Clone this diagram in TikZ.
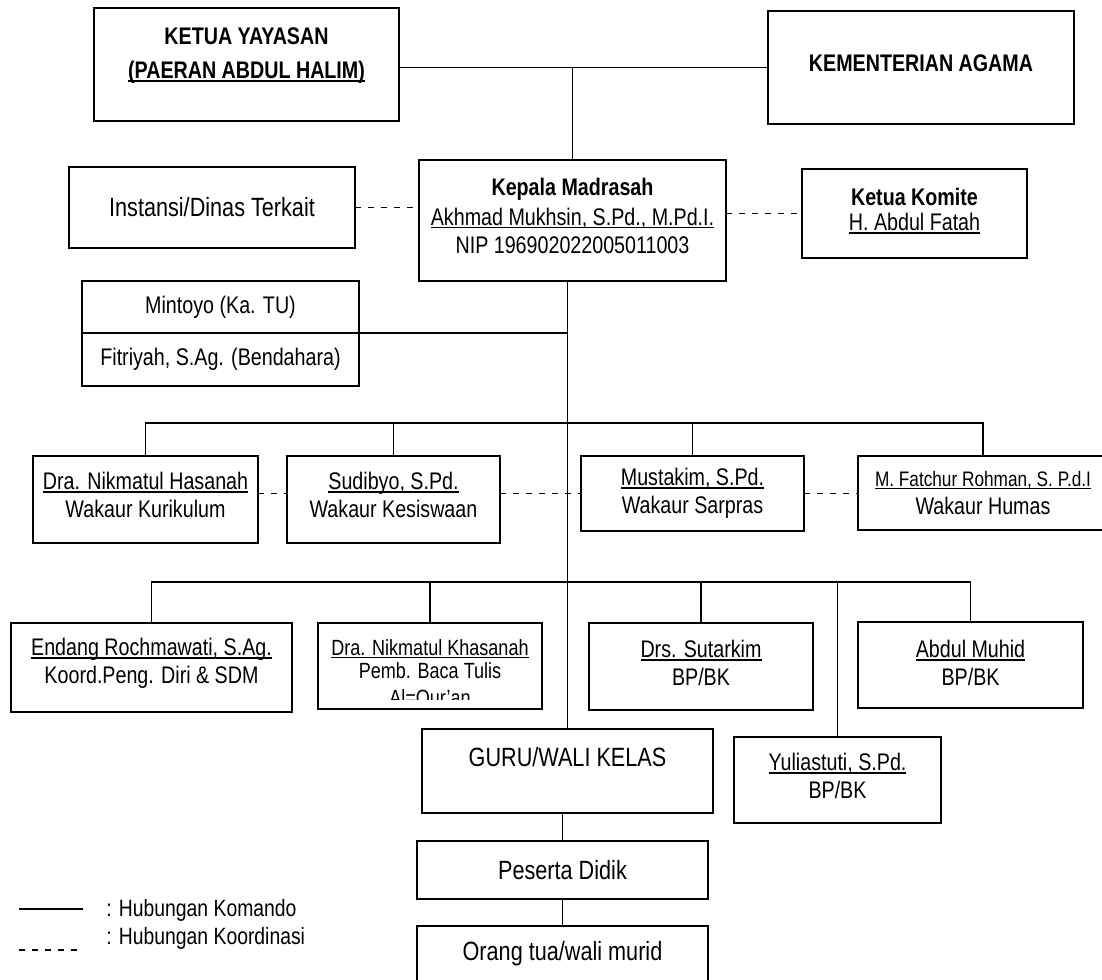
\documentclass[tikz,border=0pt]{standalone}
\usepackage{fontspec}
\setmainfont{Liberation Sans}[FakeStretch=0.82]
\usetikzlibrary{positioning}

\newsavebox{\garisbox}
\newcommand{\garis}[1]{\sbox{\garisbox}{#1}\rlap{\rule[-1.5pt]{\wd\garisbox}{.75pt}}\usebox{\garisbox}}

\begin{document}
\begin{tikzpicture}[
		x=.5pt, y=-.5pt
		,every node/.append style={font={\fontsize{12}{14}\selectfont}}
		,box/.style={draw, line width=.9pt, align=center, inner sep=1pt, outer sep=0pt}
		,sz/.style 2 args={minimum width=#1*.5pt, minimum height=#2*.5pt}
		,lift/.style={text depth=#1}
		,kmd/.style={line width=.8pt}
		,krd/.style={line width=.8pt, dash pattern=on 3pt off 3.5pt}
		,small/.style={font={\fontsize{11}{11.5}\selectfont}}
		,big/.style={font={\fontsize{13.2}{15}\selectfont}}
	]
	\useasboundingbox (0,0) rectangle (1102,979);
	\coordinate (busone) at (0,423);
	\coordinate (bustwo) at (0,582);

	\node [box, sz={305}{113}, lift=11pt] (yayasan) at (246.5,64.5) {\textbf{KETUA YAYASAN}\\[3pt]\textbf{\garis{(PAERAN ABDUL HALIM)}}};
	\node [box, sz={306}{113}, lift=4.5pt] (kemenag) at (921,67.5) {\textbf{KEMENTERIAN AGAMA}};
	\node [box, sz={307}{121}, lift=5pt] (kepala) at (572.5,220.5) {\textbf{Kepala Madrasah}\\[1pt]\garis{Akhmad Mukhsin, S.Pd., M.Pd.I.}\\NIP 196902022005011003};
	\node [box, big, sz={286}{81}] (instansi) at (212,207.5) {Instansi/Dinas Terkait};
	\node [box, sz={225}{89}, lift=4pt] (komite) at (914.5,213.5) {\textbf{Ketua Komite}\\[-1.5pt]\garis{H. Abdul Fatah}};
	\node [box, sz={277}{52}] (tu) at (220.5,307) {Mintoyo (Ka. TU)};
	\node [box, sz={277}{53}, below=0pt of tu] (bendahara) {Fitriyah, S.Ag. (Bendahara)};

	\node [box, sz={225}{87}, lift=4.5pt] (hasanah) at (145.5,499.5) {\garis{Dra. Nikmatul Hasanah}\\Wakaur Kurikulum};
	\node [box, sz={213}{87}, lift=4.5pt] (sudibyo) at (393.5,499.5) {\garis{Sudibyo, S.Pd.}\\Wakaur Kesiswaan};
	\node [box, sz={223}{75}] (mustakim) at (692.5,493.5) {\garis{Mustakim, S.Pd.}\\Wakaur Sarpras};
	\node [box, sz={250}{74}] (fatchur) at (983,493) {{\fontsize{10.5}{12}\selectfont\garis{M. Fatchur Rohman, S. P.d.I}}\\Wakaur Humas};

	\node [box, sz={281}{89}, lift=6.5pt] (endang) at (151.5,667.5) {\garis{Endang Rochmawati, S.Ag.}\\Koord.Peng. Diri \& SDM};
	\node [box, small, sz={224}{86}, lift=7pt] (khasanah) at (430,666) {\garis{Dra. Nikmatul Khasanah}\\Pemb. Baca Tulis};
	\begin{scope}
		\clip (khasanah.north west) rectangle (khasanah.east |- 0,699);
		\node [small, anchor=base, inner sep=0pt] (alquran) at (khasanah.center |- 0,705) {Al=Qur'an};
	\end{scope}
	\node [box, sz={224}{87}, lift=3.5pt] (sutarkim) at (701,666.5) {\garis{Drs. Sutarkim}\\BP/BK};
	\node [box, sz={225}{86}, lift=2pt] (muhid) at (970.5,665) {\garis{Abdul Muhid}\\BP/BK};
	\node [box, sz={207}{86}, lift=4pt] (yuliastuti) at (837.5,780) {\garis{Yuliastuti, S.Pd.}\\BP/BK};

	\node [box, big, sz={291}{84}, lift=14pt] (guru) at (567.5,771) {GURU/WALI KELAS};
	\node [box, big, sz={291}{58}] (peserta) at (562.5,870) {Peserta Didik};
	\node [box, big, sz={291}{56}] (orangtua) at (562.5,954) {Orang tua/wali murid};

	\draw [kmd] (kemenag.west -| yayasan.east) -- (kemenag.west);
	\draw [kmd] (kepala.north) -- (kepala.north |- kemenag.west);
	\draw [kmd] (kepala.south -| guru.north) -- (guru.north);
	\draw [kmd] (tu.south east) -- (tu.south east -| guru.north);
	\draw [kmd] (hasanah.north) |- (busone -| fatchur.north) -- (fatchur.north);
	\draw [kmd] (sudibyo.north) -- (sudibyo.north |- busone);
	\draw [kmd] (mustakim.north) -- (mustakim.north |- busone);
	\draw [kmd] (endang.north) |- (bustwo -| muhid.north) -- (muhid.north);
	\draw [kmd] (khasanah.north) -- (khasanah.north |- bustwo);
	\draw [kmd] (sutarkim.north) -- (sutarkim.north |- bustwo);
	\draw [kmd] (yuliastuti.north) -- (yuliastuti.north |- bustwo);
	\draw [kmd] (peserta.north |- guru.south) -- (peserta.north);
	\draw [kmd] (peserta.south) -- (orangtua.north);

	\draw [krd] (instansi.east) -- (instansi.east -| kepala.west);
	\draw [krd] (komite.west -| kepala.east) -- (komite.west);
	\draw [krd] (hasanah.east |- mustakim.west) -- (sudibyo.west |- mustakim.west);
	\draw [krd] (sudibyo.east |- mustakim.west) -- (mustakim.west);
	\draw [krd] (mustakim.east) -- (fatchur.west |- mustakim.east);

	\coordinate (kmdA) at (19,909);
	\coordinate (kmdB) at (83,909);
	\coordinate (krdA) at (19,950);
	\coordinate (krdB) at (83,950);
	\node [anchor=west, inner sep=0pt, font={\fontsize{11.8}{13}\selectfont}] (kmdtext) at (106,910) {: Hubungan Komando};
	\node [anchor=west, inner sep=0pt, font={\fontsize{11.8}{13}\selectfont}] (krdtext) at (106,938) {: Hubungan Koordinasi};
	\draw [kmd] (kmdA) -- (kmdB);
	\draw [krd] (krdA) -- (krdB);
\end{tikzpicture}
\end{document}
